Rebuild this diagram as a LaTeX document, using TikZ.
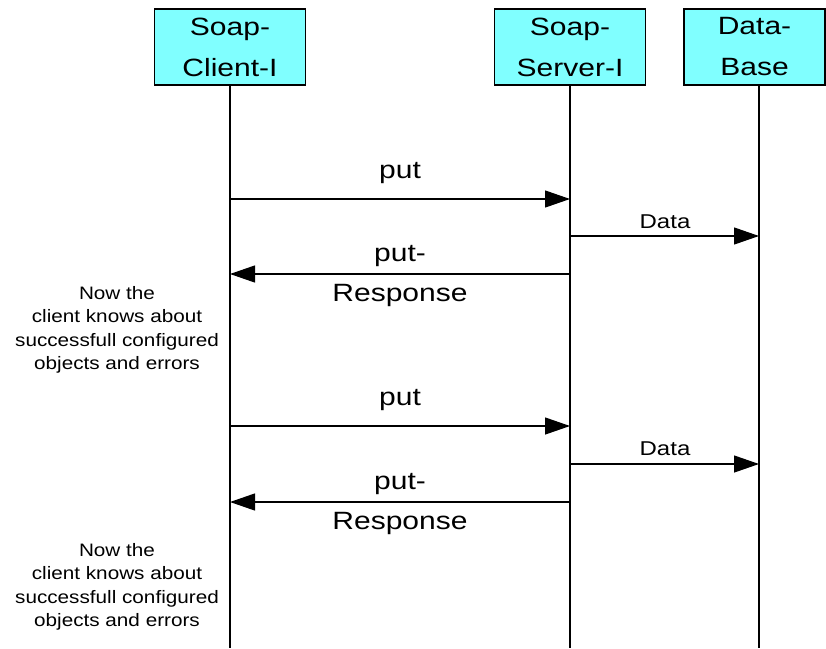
\documentclass[tikz,border=0pt]{standalone}
\usepackage{fontspec}
\setmainfont{Liberation Sans}
\usetikzlibrary{arrows.meta}

\definecolor{boxcyan}{RGB}{128,255,255}

\tikzset{
  lifebox/.style={draw=black, line width=1.5pt, fill=boxcyan, xscale=1.2,
    minimum width=126pt, minimum height=76pt, inner sep=0pt, align=center,
    font=\fontsize{25}{41}\selectfont},
  lifeline/.style={line width=1.2pt},
  msg/.style={line width=1.2pt, -{Triangle[length=25pt,width=17pt]}},
  biglabel/.style={xscale=1.2, inner sep=0pt, align=center,
    font=\fontsize{25}{40}\selectfont},
  smalllabel/.style={xscale=1.2, inner sep=0pt, font=\fontsize{20}{24}\selectfont},
  notetext/.style={xscale=1.15, inner sep=0pt, align=center,
    font=\fontsize{18}{23.5}\selectfont}
}

\begin{document}
\begin{tikzpicture}[x=1pt, y=-1pt]
  \useasboundingbox (0,0) rectangle (826,648);

  % Participants
  \node[lifebox] (client) at (230,47) {Soap-\\Client-I};
  \node[lifebox] (server) at (570,47) {Soap-\\Server-I};
  \node[lifebox, minimum width=117.5pt] (db) at (754.5,47) {Data-\\Base};

  % Lifelines down to the bottom edge
  \coordinate (clientEnd) at (230,648);
  \coordinate (serverEnd) at (570,648);
  \coordinate (dbEnd) at (759,648);
  \draw[lifeline] (client) -- (clientEnd);
  \draw[lifeline] (server) -- (serverEnd);
  \draw[lifeline] (db.south -| dbEnd) -- (dbEnd);

  % First round
  \coordinate (put1) at (0,199);
  \coordinate (data1) at (0,236);
  \coordinate (resp1) at (0,274);
  \draw[msg] (client |- put1) -- (server |- put1);
  \node[biglabel, anchor=base] (putLabel1) at (400,178) {put};
  \draw[msg] (server |- data1) -- (dbEnd |- data1);
  \node[smalllabel, anchor=base] (dataLabel1) at (665,228) {Data};
  \draw[msg] (server |- resp1) -- (client |- resp1);
  \node[biglabel] (respLabel1) at (400,276) {put-\\Response};
  \node[notetext] (note1) at (117,330) {Now the\\client knows about\\successfull configured\\objects and errors};

  % Second round
  \coordinate (put2) at (0,426);
  \coordinate (data2) at (0,464);
  \coordinate (resp2) at (0,502);
  \draw[msg] (client |- put2) -- (server |- put2);
  \node[biglabel, anchor=base] (putLabel2) at (400,405) {put};
  \draw[msg] (server |- data2) -- (dbEnd |- data2);
  \node[smalllabel, anchor=base] (dataLabel2) at (665,455) {Data};
  \draw[msg] (server |- resp2) -- (client |- resp2);
  \node[biglabel] (respLabel2) at (400,504) {put-\\Response};
  \node[notetext] (note2) at (117,587) {Now the\\client knows about\\successfull configured\\objects and errors};
\end{tikzpicture}
\end{document}
